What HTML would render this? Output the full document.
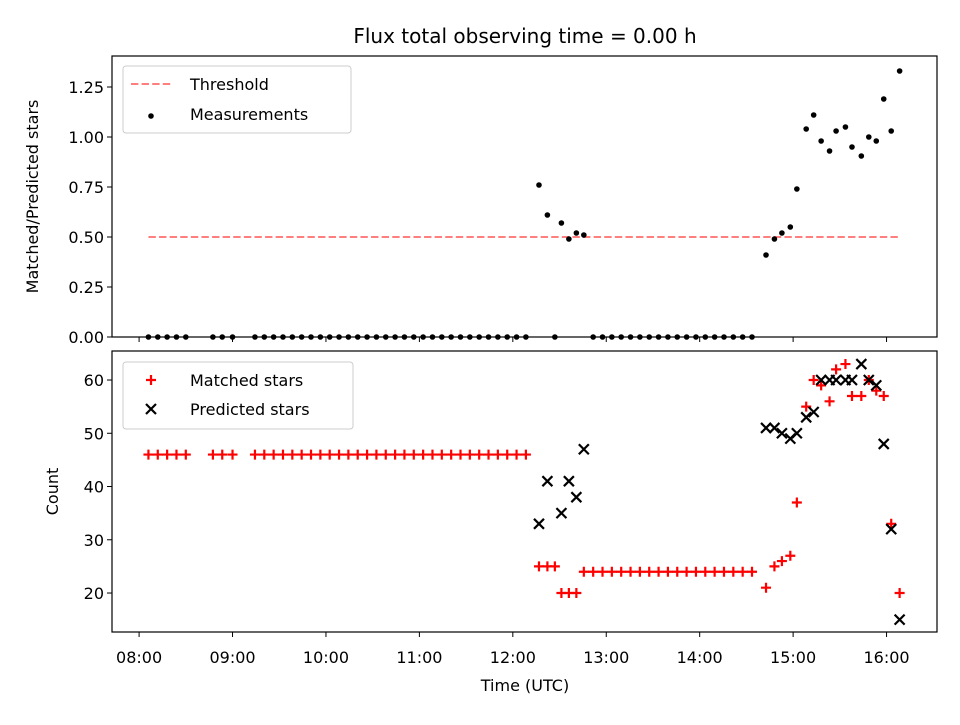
<!DOCTYPE html>
<html><head><meta charset="utf-8"><style>
body{margin:0;background:#fff;font-family:"Liberation Sans","DejaVu Sans",sans-serif}
svg text{font-family:"DejaVu Sans","Liberation Sans",sans-serif}
</style></head><body>
<svg id="c" width="960" height="720" xmlns="http://www.w3.org/2000/svg"></svg>
<script>
const timesH=[0.1,0.2,0.3,0.4,0.5,0.79,0.89,1.0,
1.24,1.34,1.44,1.54,1.64,1.74,1.84,1.94,2.04,2.14,2.24,2.34,2.44,2.54,2.64,2.74,2.84,2.94,3.04,3.14,3.24,3.34,3.44,3.54,3.64,3.74,3.84,3.94,4.04,4.14,
4.28,4.37,4.45,4.52,4.60,4.68,4.76,
4.86,4.96,5.06,5.16,5.26,5.36,5.46,5.56,5.66,5.76,5.86,5.96,6.06,6.16,6.26,6.36,6.46,6.56,
6.71,6.80,6.88,6.97,7.04,7.14,7.22,7.30,7.39,7.46,7.56,7.63,7.73,7.81,7.89,7.97,8.05,8.14];
const matched=[46,46,46,46,46,46,46,46,
46,46,46,46,46,46,46,46,46,46,46,46,46,46,46,46,46,46,46,46,46,46,46,46,46,46,46,46,46,46,
25,25,25,20,20,20,24,
24,24,24,24,24,24,24,24,24,24,24,24,24,24,24,24,24,24,
21,25,26,27,37,55,60,59,56,62,63,57,57,60,58,57,33,20];
const predicted=[null,null,null,null,null,null,null,null,
null,null,null,null,null,null,null,null,null,null,null,null,null,null,null,null,null,null,null,null,null,null,null,null,null,null,null,null,null,null,
33,41,null,35,41,38,47,
null,null,null,null,null,null,null,null,null,null,null,null,null,null,null,null,null,null,
51,51,50,49,50,53,54,60,60,60,60,60,63,60,59,48,32,15];
const ratio=[0,0,0,0,0,0,0,0,
0,0,0,0,0,0,0,0,0,0,0,0,0,0,0,0,0,0,0,0,0,0,0,0,0,0,0,0,0,0,
0.76,0.61,0,0.57,0.49,0.52,0.51,
0,0,0,0,0,0,0,0,0,0,0,0,0,0,0,0,0,0,
0.41,0.49,0.52,0.55,0.74,1.04,1.11,0.98,0.93,1.03,1.05,0.95,0.905,1.0,0.98,1.19,1.03,1.33];
const xTickLabels=["08:00","09:00","10:00","11:00","12:00","13:00","14:00","15:00","16:00"];
const topTicks=[0,0.25,0.5,0.75,1.0,1.25];
const botTicks=[20,30,40,50,60];
const threshold=0.5;

const NS="http://www.w3.org/2000/svg",svg=document.getElementById('c');
function el(t,a,p){const e=document.createElementNS(NS,t);for(const k in a)e.setAttribute(k,a[k]);(p||svg).appendChild(e);return e;}
const L=112,R=937,xmin=-0.29,xmax=8.54;
const X=h=>L+(h-xmin)/(xmax-xmin)*(R-L);
const T0=56,T1=337,B0=351,B1=632;
const Yt=v=>T1-v/1.405*(T1-T0);
const Yb=v=>B1-(v-12.68)/(65.45-12.68)*(B1-B0);

let t=el('text',{x:525,y:43,'font-size':20,'text-anchor':'middle'});t.textContent="Flux total observing time = 0.00 h";


// top
let g=el('g',{});
let ln=el('line',{x1:X(timesH[0]),x2:X(timesH[timesH.length-1]),y1:Yt(threshold),y2:Yt(threshold),stroke:'#ff7f7f','stroke-width':2,'stroke-dasharray':'7.4,3.2'},g);

ratio.forEach((r,i)=>{const c=el('circle',{cx:X(timesH[i]),cy:Yt(r),r:2.8,fill:'#000'},g);
});
el('rect',{x:L,y:T0,width:R-L,height:T1-T0,fill:'none',stroke:'#000','stroke-width':1.2},g);
topTicks.forEach(v=>{const y=Yt(v);el('line',{x1:L-5,x2:L,y1:y,y2:y,stroke:'#000'},g);
const tt=el('text',{x:L-8,y:y+6,'font-size':16,'text-anchor':'end'},g);tt.textContent=v.toFixed(2);
});
xTickLabels.forEach((s,i)=>{const x=X(i);el('line',{x1:x,x2:x,y1:T1,y2:T1+5,stroke:'#000'},g);});
t=el('text',{x:38,y:(T0+T1)/2,'font-size':16,'text-anchor':'middle',transform:`rotate(-90 38 ${(T0+T1)/2})`});t.textContent="Matched/Predicted stars";

// top legend
let lg=el('g',{});
el('rect',{x:123,y:66,width:228,height:67,rx:3,fill:'#fff',stroke:'#ccc'},lg);
el('line',{x1:131,x2:171,y1:84,y2:84,stroke:'#ff7f7f','stroke-width':2,'stroke-dasharray':'7.4,3.2'},lg);
t=el('text',{x:190,y:90,'font-size':16},lg);t.textContent="Threshold";
el('circle',{cx:151,cy:116,r:2.8,fill:'#000'},lg);
t=el('text',{x:190,y:120,'font-size':16},lg);t.textContent="Measurements";

// bottom
g=el('g',{});
matched.forEach((m,i)=>{const x=X(timesH[i]),y=Yb(m);const p=el('path',{d:`M${x-5},${y}H${x+5}M${x},${y-5}V${y+5}`,stroke:'#f00','stroke-width':2.2},g);
});
predicted.forEach((m,i)=>{if(m==null)return;const x=X(timesH[i]),y=Yb(m);const p=el('path',{d:`M${x-5},${y-5}L${x+5},${y+5}M${x-5},${y+5}L${x+5},${y-5}`,stroke:'#000','stroke-width':2.2},g);
});
el('rect',{x:L,y:B0,width:R-L,height:B1-B0,fill:'none',stroke:'#000','stroke-width':1.2},g);
botTicks.forEach(v=>{const y=Yb(v);el('line',{x1:L-5,x2:L,y1:y,y2:y,stroke:'#000'},g);
const tt=el('text',{x:L-8,y:y+6,'font-size':16,'text-anchor':'end'},g);tt.textContent=v;
});
xTickLabels.forEach((s,i)=>{const x=X(i);el('line',{x1:x,x2:x,y1:B1,y2:B1+5,stroke:'#000'},g);
const tt=el('text',{x:x,y:B1+31,'font-size':16,'text-anchor':'middle'},g);tt.textContent=s;
});
t=el('text',{x:525,y:691,'font-size':16,'text-anchor':'middle'});t.textContent="Time (UTC)";

t=el('text',{x:58,y:(B0+B1)/2,'font-size':16,'text-anchor':'middle',transform:`rotate(-90 58 ${(B0+B1)/2})`});t.textContent="Count";

lg=el('g',{});
el('rect',{x:123,y:362,width:230,height:67,rx:3,fill:'#fff',stroke:'#ccc'},lg);
el('path',{d:'M146,380H156M151,375V385',stroke:'#f00','stroke-width':2.2},lg);
t=el('text',{x:190,y:386,'font-size':16},lg);t.textContent="Matched stars";
el('path',{d:'M146,404L156,414M146,414L156,404',stroke:'#000','stroke-width':2.2},lg);
t=el('text',{x:190,y:415,'font-size':16},lg);t.textContent="Predicted stars";
</script>
</body></html>
